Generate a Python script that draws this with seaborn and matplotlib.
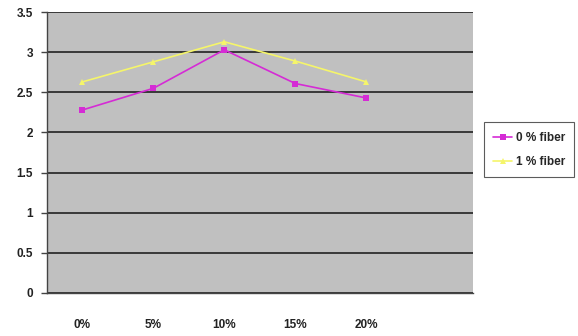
import numpy as np
import pandas as pd
import matplotlib
matplotlib.use("Agg")
import matplotlib.pyplot as plt
import seaborn as sns

categories = ["0%", "5%", "10%", "15%", "20%"]
fiber0 = [2.28, 2.55, 3.03, 2.61, 2.43]
fiber1 = [2.63, 2.88, 3.13, 2.89, 2.63]
series_names = ["0 % fiber", "1 % fiber"]
yticks = [0, 0.5, 1, 1.5, 2, 2.5, 3, 3.5]
ytick_labels = ["0", "0.5", "1", "1.5", "2", "2.5", "3", "3.5"]

sns.set_theme(style="white")
plt.rcParams['font.family'] = ['Liberation Sans', 'DejaVu Sans']

df = pd.DataFrame({
    "pos": list(range(len(categories))) * 2,
    "value": fiber0 + fiber1,
    "series": [series_names[0]] * len(categories) + [series_names[1]] * len(categories),
})

fig = plt.figure(figsize=(5.78, 3.36), dpi=100)
ax = fig.add_axes([0.081, 0.128, 0.737, 0.836])
ax.set_facecolor("#c0c0c0")

sns.lineplot(data=df, x="pos", y="value", hue="series", style="series",
             palette={series_names[0]: "#d52bd5", series_names[1]: "#f5f56a"},
             markers={series_names[0]: "s", series_names[1]: "^"},
             dashes=False, markersize=5, linewidth=1.2, markeredgewidth=0,
             ax=ax, legend=True)

ax.set_xlim(-0.5, 5.5)
ax.set_ylim(0, 3.5)
ax.set_yticks(yticks)
ax.set_yticklabels(ytick_labels, fontsize=8.5, fontweight="bold", color="#222222")
ax.set_xticks(range(len(categories)))
ax.set_xticklabels(categories, fontsize=8.5, fontweight="bold", color="#222222")
ax.set_xticks(np.arange(-0.5, 6.0, 1.0), minor=True)
ax.tick_params(axis="x", which="major", length=0, pad=19)
ax.tick_params(axis="x", which="minor", length=4, width=1, color="#444444", direction="out")
ax.tick_params(axis="y", length=4, width=1, color="#444444", direction="out", left=True, pad=6)
ax.grid(axis="y", color="#222222", linewidth=1.2)
ax.set_axisbelow(True)
for s in ["top", "right"]:
    ax.spines[s].set_visible(False)
ax.spines["left"].set_color("#444444")
ax.spines["bottom"].set_color("#444444")
ax.spines["left"].set_linewidth(1)
ax.spines["bottom"].set_linewidth(1)
ax.set_xlabel("")
ax.set_ylabel("")

leg = ax.legend(loc="center left", bbox_to_anchor=(1.012, 0.51), frameon=True,
                fontsize=8.5, handlelength=1.6, handletextpad=0.3,
                borderpad=0.8, fancybox=False, labelspacing=1.0)
leg.get_frame().set_edgecolor("#333333")
leg.get_frame().set_linewidth(0.8)
for t in leg.get_texts():
    t.set_fontweight("bold")

fig.savefig("out.png", dpi=100)
